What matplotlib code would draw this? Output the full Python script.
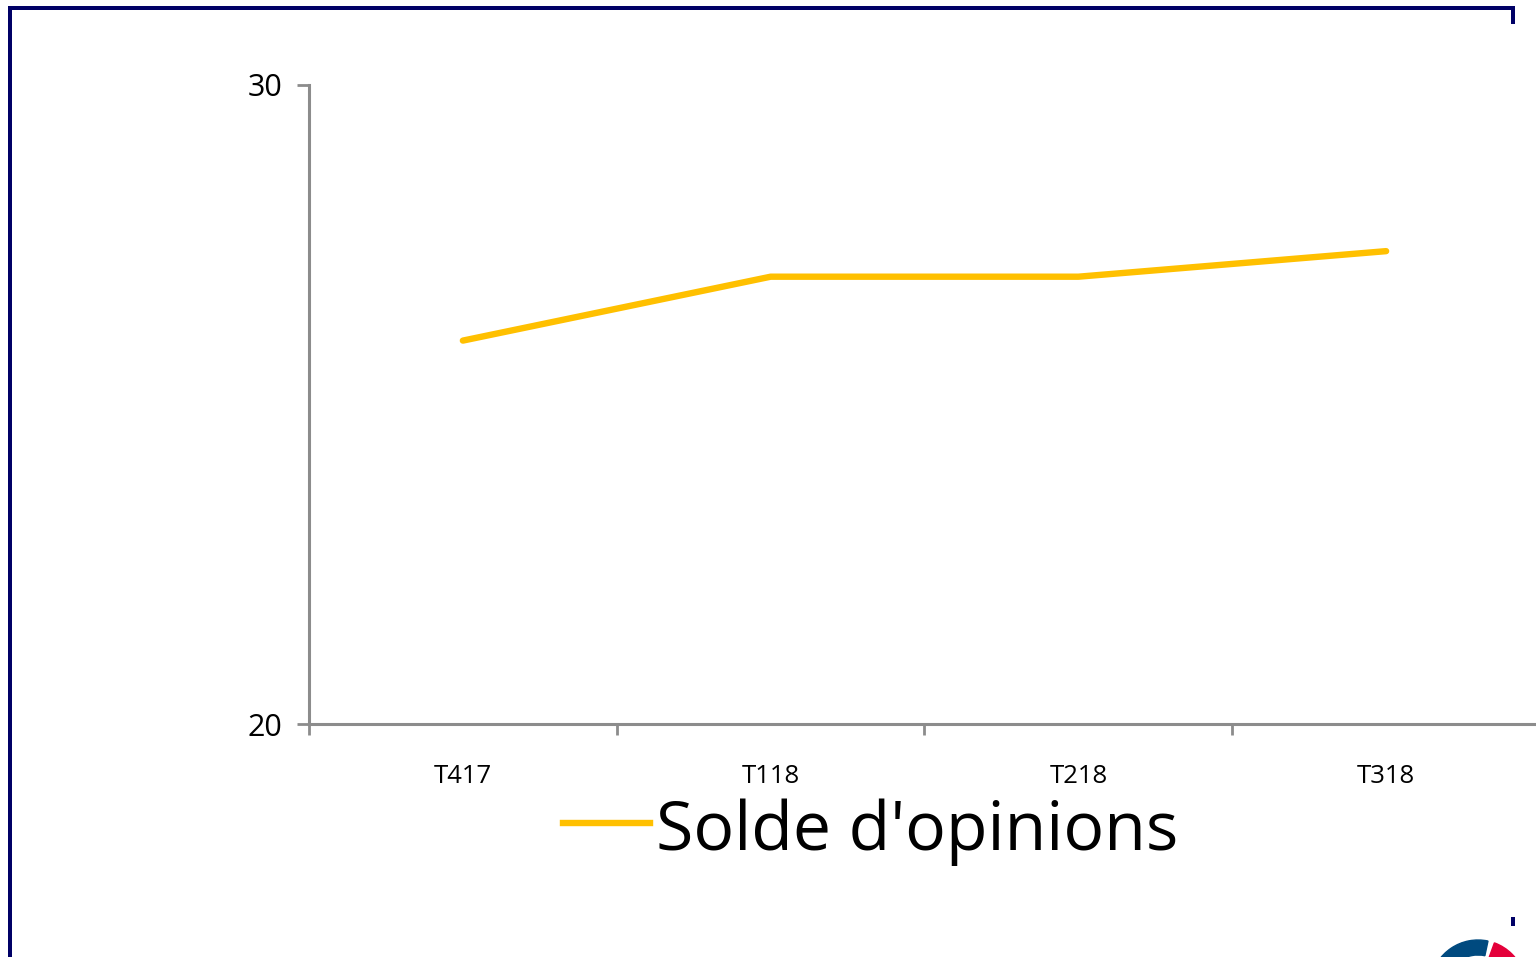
import matplotlib
matplotlib.use("Agg")
import matplotlib.pyplot as plt
from matplotlib.patches import Wedge, Rectangle
from matplotlib.lines import Line2D

categories = ["T417", "T118", "T218", "T318"]
solde = [26.0, 27.0, 27.0, 27.4]
y_ticks = [20, 30]
series_name = "Solde d'opinions"

plt.rcParams['font.family'] = ['Open Sans', 'DejaVu Sans']

W, H = 1536, 957
fig = plt.figure(figsize=(W / 100, H / 100), dpi=100)
fig.patch.set_facecolor('white')

# axes: left 309px, right 1540px, top 85px, bottom 724px
ax = fig.add_axes([309 / W, 1 - 724 / H, (1540 - 309) / W, (724 - 85) / H])
x = list(range(len(categories)))
ax.plot(x, solde, color='#FFC000', lw=4.6, solid_capstyle='round', clip_on=False)
ax.set_xlim(-0.5, len(categories) - 0.5)
ax.set_ylim(20, 30)
ax.set_yticks(y_ticks)
ax.set_yticklabels([str(v) for v in y_ticks], fontsize=22)
ax.set_xticks([i - 0.5 for i in range(len(categories) + 1)])
ax.set_xticklabels([])
ax.set_xticks(x, minor=True)
ax.set_xticklabels(categories, minor=True, fontsize=18.5)
ax.tick_params(axis='x', which='minor', length=0, pad=29)
ax.tick_params(axis='x', which='major', length=8, width=2, color='#8c8c8c', direction='out')
ax.tick_params(axis='y', length=9, width=2, color='#8c8c8c', direction='out', pad=10)
for s in ['top', 'right']:
    ax.spines[s].set_visible(False)
for s in ['left', 'bottom']:
    ax.spines[s].set_color('#8c8c8c')
    ax.spines[s].set_linewidth(2.2)
ax.patch.set_alpha(0)

# legend
fig.add_artist(Line2D([563 / W, 650 / W], [1 - 823 / H, 1 - 823 / H],
                      color='#FFC000', lw=4.6, transform=fig.transFigure))
fig.text(656 / W, 1 - 832 / H, series_name, fontsize=49, va='center', ha='left',
         color='black')

# frame (navy)
navy = '#000066'
fig.add_artist(Rectangle((8 / W, 0), 4 / W, 1 - 8 / H, transform=fig.transFigure,
                         color=navy, lw=0))
fig.add_artist(Rectangle((8 / W, 1 - 10 / H), (1515 - 8) / W, 4 / H, transform=fig.transFigure,
                         color=navy, lw=0))
fig.add_artist(Rectangle((1511 / W, 1 - 24 / H), 4 / W, 18 / H, transform=fig.transFigure,
                         color=navy, lw=0))
fig.add_artist(Rectangle((1511 / W, 1 - 926 / H), 4 / W, 9 / H, transform=fig.transFigure,
                         color=navy, lw=0))

# logo fragment (pixel coords, y downward)
lax = fig.add_axes([0, 0, 1, 1])
lax.set_xlim(0, W)
lax.set_ylim(H, 0)
lax.axis('off')
lax.add_patch(Wedge((1478, 988), 48, 190, 282, width=15, color='#004A7F'))
lax.add_patch(Wedge((1478, 988), 48, 290, 340, width=15, color='#E4003A'))

fig.savefig('out.png', dpi=100, facecolor='white')
